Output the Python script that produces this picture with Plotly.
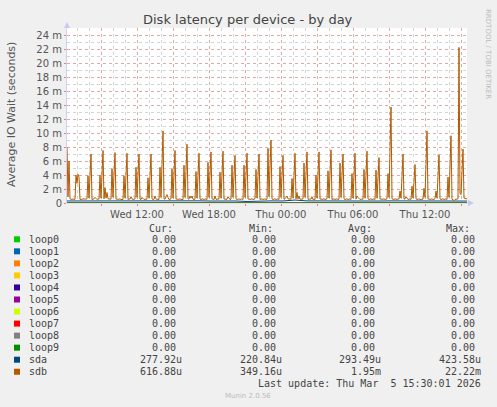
import plotly.graph_objects as go
import pandas as pd

# ---------------- data ----------------
start_time = "2026-03-04 06:10"
end_time = "2026-03-05 15:30"
step = "5min"

# sdb average IO wait in milliseconds, 5-minute samples (401 points)
sdb_ms = [
    8.0, 0.9, 6.0, 0.6, 0.55, 0.5, 0.6, 0.5, 0.55,
    4.0, 2.8, 4.1, 3.7, 0.5, 0.55, 0.5, 0.6, 0.55, 0.5, 0.55, 0.6,
    3.9, 0.7, 3.8, 7.0, 0.5, 0.55, 0.6, 0.8, 0.55, 0.5, 0.6, 0.55,
    4.0, 0.7, 4.0, 7.5, 0.6, 2.2, 0.7, 1.5, 0.6, 0.55, 0.5, 0.55,
    4.9, 0.8, 4.0, 7.2, 0.55, 0.6, 0.5, 0.55, 0.6, 0.5, 0.55, 0.5,
    3.9, 0.7, 3.9, 7.1, 0.5, 0.6, 0.55, 0.9, 0.6, 0.5, 0.55, 0.6,
    5.1, 0.8, 4.0, 7.0, 0.55, 0.5, 0.8, 0.6, 0.5, 0.55, 0.5, 0.55,
    3.6, 0.7, 3.8, 7.0, 0.6, 0.5, 0.55, 1.0, 0.6, 0.5, 0.55, 0.5,
    5.1, 0.8, 5.5, 10.3, 0.6, 0.55, 0.9, 1.2, 0.8, 0.5, 0.55, 0.6,
    4.9, 0.7, 4.0, 7.5, 0.55, 0.6, 0.5, 0.55, 0.6, 0.5, 0.55, 0.5,
    5.4, 0.8, 4.5, 8.4, 0.6, 0.55, 1.0, 0.7, 1.0, 0.55, 0.5, 0.55,
    4.5, 0.7, 3.9, 7.1, 0.55, 0.5, 0.6, 0.55, 0.5, 0.6, 0.55, 0.5,
    5.8, 0.8, 4.0, 7.3, 0.6, 0.55, 0.5, 1.0, 0.55, 0.5, 0.6, 0.55,
    4.4, 0.7, 4.0, 7.4, 0.55, 0.6, 0.5, 0.55, 0.9, 0.6, 0.5, 0.55,
    5.4, 0.8, 3.8, 6.8, 0.6, 0.5, 0.55, 0.6, 0.5, 0.55, 0.6, 0.5,
    5.4, 0.8, 3.9, 7.1, 0.55, 0.6, 0.5, 0.55, 0.6, 0.5, 0.55, 0.6,
    4.8, 0.7, 3.8, 7.0, 0.5, 0.55, 0.6, 0.5, 0.55, 0.6, 0.5, 0.55,
    7.8, 0.9, 5.0, 9.0, 0.6, 0.5, 0.55, 0.6, 0.5, 0.55, 0.6, 0.5,
    5.2, 0.8, 3.8, 6.8, 0.55, 0.6, 0.8, 1.0, 0.6, 0.55, 0.5, 0.55,
    3.5, 0.7, 3.9, 7.1, 0.6, 1.5, 0.6, 1.0, 0.55, 0.5, 0.55, 0.6,
    5.7, 0.8, 4.0, 7.3, 0.55, 0.5, 0.6, 0.55, 0.9, 0.5, 0.55, 0.5,
    4.0, 0.7, 4.0, 7.3, 0.55, 0.6, 0.5, 0.55, 0.6, 0.5, 0.55, 0.6,
    4.6, 0.7, 4.2, 7.6, 0.5, 0.55, 0.6, 0.5, 0.55, 0.6, 0.5, 0.55,
    5.7, 0.8, 3.9, 7.0, 0.6, 0.5, 0.55, 0.6, 0.5, 0.55, 0.6, 0.5,
    4.2, 0.7, 3.9, 7.1, 0.55, 1.0, 0.8, 0.6, 0.5, 0.55, 0.5, 0.55,
    4.8, 0.7, 4.0, 7.4, 0.6, 0.5, 0.55, 0.6, 0.5, 0.55, 0.6, 0.5,
    4.7, 0.7, 3.6, 6.5, 0.55, 0.6, 0.5, 0.55, 0.6, 0.5, 0.55, 0.6,
    4.2, 0.8, 7.5, 13.7, 0.6, 0.55, 0.5, 0.6, 0.55, 0.5, 0.6, 0.55,
    1.7, 0.7, 3.8, 7.0, 0.55, 0.6, 0.9, 0.6, 0.5, 0.55, 0.6, 0.5,
    2.4, 0.7, 3.0, 5.5, 0.6, 0.5, 0.55, 0.6, 0.5, 0.55, 0.5, 0.55,
    2.1, 0.8, 5.5, 10.3, 0.55, 0.6, 0.5, 0.55, 0.6, 0.5, 0.55, 0.6,
    1.7, 0.7, 3.8, 6.9, 0.6, 0.5, 0.55, 0.6, 0.5, 0.55, 0.6, 0.5,
    3.7, 0.8, 5.2, 9.6, 0.55, 0.5, 0.35, 0.5, 0.55, 0.5, 0.6,
    22.22, 1.4, 1.2, 4.0, 7.7, 0.7, 0.6, 0.6, 0.617,
]

# sda average IO wait in milliseconds, hourly samples
sda_ms = [0.29, 0.30, 0.28, 0.29, 0.31, 0.28, 0.30, 0.29, 0.27, 0.30,
          0.29, 0.31, 0.28, 0.30, 0.29, 0.22, 0.28, 0.30, 0.29, 0.42,
          0.30, 0.28, 0.29, 0.31, 0.30, 0.29, 0.28, 0.30, 0.29, 0.31,
          0.28, 0.30, 0.29, 0.28, 0.278]

loop_ms = [0.0, 0.0]

devices = ["loop0", "loop1", "loop2", "loop3", "loop4", "loop5", "loop6",
           "loop7", "loop8", "loop9", "sda", "sdb"]
colors = ["#00CC00", "#0066B3", "#FF8000", "#FFCC00", "#330099", "#990099",
          "#CCFF00", "#FF0000", "#808080", "#008F00", "#00487D", "#B35A00"]
cur_vals = ["0.00"] * 10 + ["277.92u", "616.88u"]
min_vals = ["0.00"] * 10 + ["220.84u", "349.16u"]
avg_vals = ["0.00"] * 10 + ["293.49u", "1.95m"]
max_vals = ["0.00"] * 10 + ["423.58u", "22.22m"]

y_ticks = [0, 2, 4, 6, 8, 10, 12, 14, 16, 18, 20, 22, 24]
y_ticktext = ["0", "2 m", "4 m", "6 m", "8 m", "10 m", "12 m", "14 m", "16 m",
              "18 m", "20 m", "22 m", "24 m"]
x_ticks = ["2026-03-04 09:00", "2026-03-04 12:00", "2026-03-04 15:00",
           "2026-03-04 18:00", "2026-03-04 21:00", "2026-03-05 00:00",
           "2026-03-05 03:00", "2026-03-05 06:00", "2026-03-05 09:00",
           "2026-03-05 12:00", "2026-03-05 15:00"]
x_ticktext = ["", "Wed 12:00", "", "Wed 18:00", "", "Thu 00:00", "",
              "Thu 06:00", "", "Thu 12:00", ""]

title = "Disk latency per device - by day"
y_title = "Average IO Wait (seconds)"
last_update = "Last update: Thu Mar  5 15:30:01 2026"
watermark = "RRDTOOL / TOBI OETIKER"
footer = "Munin 2.0.56"

# ---------------- figure ----------------
t5 = pd.date_range(start_time, periods=len(sdb_ms), freq=step)
t_sda = list(t5[::12]) + [t5[-1]]
t_loop = [start_time, end_time]

W, H = 497, 407
PL, PR, PT, PB = 67, 467, 28, 203


def fx(x):
    return (x - PL) / (PR - PL)


def fy(y):
    return (PB - y) / (PB - PT)


fig = go.Figure()
for i, name in enumerate(devices):
    if name == "sda":
        xs, ys = t_sda, sda_ms
    elif name == "sdb":
        xs, ys = t5, sdb_ms
    else:
        xs, ys = t_loop, loop_ms
    fig.add_trace(go.Scatter(x=xs, y=ys, mode="lines", name=name,
                             line=dict(color=colors[i], width=1),
                             showlegend=False, hoverinfo="skip"))

axis_font = dict(family="DejaVu Sans", size=10, color="#555555")
fig.update_layout(
    width=W, height=H, autosize=False,
    margin=dict(l=PL, r=W - PR, t=PT, b=H - PB, pad=0),
    paper_bgcolor="#F0F0F0", plot_bgcolor="#FFFFFF",
    showlegend=False,
    xaxis=dict(range=[start_time, end_time], tickmode="array",
               tickvals=x_ticks, ticktext=x_ticktext,
               showgrid=True, gridcolor="#E2A8A8", griddash="dot", gridwidth=1,
               minor=dict(dtick=3600000, tick0="2026-03-04 00:00",
                          showgrid=True, gridcolor="#D4D4D4", griddash="dot",
                          gridwidth=1),
               ticks="outside", ticklen=2, tickcolor="#E08080",
               showline=False, zeroline=False, tickfont=axis_font,
               fixedrange=True),
    yaxis=dict(range=[0, 25], tickmode="array", tickvals=y_ticks,
               ticktext=y_ticktext,
               showgrid=True, gridcolor="#E2A8A8", griddash="dot", gridwidth=1,
               minor=dict(dtick=1, tick0=0, showgrid=True, gridcolor="#D4D4D4",
                          griddash="dot", gridwidth=1),
               ticks="outside", ticklen=2, tickcolor="#E08080",
               showline=True, linecolor="#D0D0F4", linewidth=1,
               zeroline=False, tickfont=axis_font, fixedrange=True),
)

shapes = [
    # x axis arrow
    dict(type="line", xref="paper", yref="paper", x0=fx(PL), x1=fx(470),
         y0=fy(PB), y1=fy(PB), line=dict(color="#D0D0F4", width=1), layer="below"),
    dict(type="path", xref="paper", yref="paper",
         path=f"M {fx(468)} {fy(200)} L {fx(474)} {fy(203)} L {fx(468)} {fy(206)} Z",
         fillcolor="#C8C8F0", line=dict(width=0)),
    # y axis arrow
    dict(type="path", xref="paper", yref="paper",
         path=f"M {fx(64)} {fy(28)} L {fx(67)} {fy(22)} L {fx(70)} {fy(28)} Z",
         fillcolor="#C8C8F0", line=dict(width=0)),
]

ann = []
ann.append(dict(text=title, x=fx(248), y=fy(20), xref="paper", yref="paper",
                showarrow=False, xanchor="center", yanchor="middle",
                font=dict(family="DejaVu Sans", size=13, color="#444444")))
ann.append(dict(text=y_title, x=fx(11), y=fy(114), xref="paper", yref="paper",
                showarrow=False, textangle=-90, xanchor="center", yanchor="middle",
                font=dict(family="DejaVu Sans", size=11, color="#555555")))
ann.append(dict(text=watermark, x=fx(488), y=fy(54), xref="paper", yref="paper",
                showarrow=False, textangle=90, xanchor="center", yanchor="middle",
                font=dict(family="DejaVu Sans", size=7, color="#BBBBBB")))

mono = dict(family="DejaVu Sans Mono", size=10, color="#444444")
headers = ["Cur:", "Min:", "Avg:", "Max:"]
header_x = [161, 261, 360, 458]
for h, hx in zip(headers, header_x):
    ann.append(dict(text=h, x=fx(hx), y=fy(228), xref="paper", yref="paper",
                    showarrow=False, xanchor="center", yanchor="middle", font=mono))

col_right = [184, 284, 383, 483]
for j, name in enumerate(devices):
    ry = 239.3 + 12.04 * j
    shapes.append(dict(type="rect", xref="paper", yref="paper",
                       x0=fx(14), x1=fx(20), y0=fy(ry - 3), y1=fy(ry + 3),
                       fillcolor=colors[j], line=dict(width=0)))
    ann.append(dict(text=name, x=fx(26.5), y=fy(ry), xref="paper", yref="paper",
                    showarrow=False, xanchor="left", yanchor="middle", font=mono))
    for vals, cx in zip([cur_vals, min_vals, avg_vals, max_vals], col_right):
        v = vals[j]
        right = cx if v[-1].isalpha() else cx - 6
        ann.append(dict(text=v, x=fx(right), y=fy(ry), xref="paper", yref="paper",
                        showarrow=False, xanchor="right", yanchor="middle",
                        font=mono))

ann.append(dict(text=last_update.replace(" ", "&nbsp;"), x=fx(483), y=fy(383.5),
                xref="paper", yref="paper", showarrow=False, xanchor="right",
                yanchor="middle", font=mono))
ann.append(dict(text=footer, x=fx(248), y=fy(396), xref="paper", yref="paper",
                showarrow=False, xanchor="center", yanchor="middle",
                font=dict(family="DejaVu Sans", size=7, color="#BBBBBB")))

fig.update_layout(shapes=shapes, annotations=ann)
fig.write_html("out.html", config=dict(displayModeBar=False),
               post_script="document.body.style.margin='0';"
                           "document.body.style.background='#F0F0F0';")
